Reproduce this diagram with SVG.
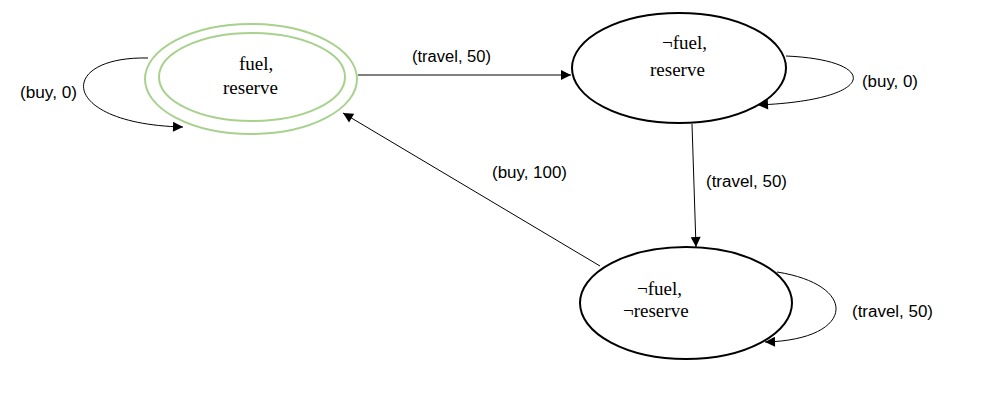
<svg xmlns="http://www.w3.org/2000/svg" width="990" height="415" viewBox="0 0 990 415">
<style>
.state{fill:#fff;stroke:#000;stroke-width:2}
.acc{fill:none;stroke:#A9D18E;stroke-width:2}
.st{font-family:"Liberation Serif","Times New Roman",serif;font-size:19px;fill:#000}
.lbl{font-family:"Liberation Sans",Arial,sans-serif;font-size:16px;fill:#000}
.edge{fill:none;stroke:#000;stroke-width:1;marker-end:url(#ah)}
</style>
<defs>
<marker id="ah" viewBox="0 0 10 10" refX="10" refY="5" markerWidth="12" markerHeight="10" markerUnits="userSpaceOnUse" orient="auto">
<path d="M0,0 L10,5 L0,10 Z" fill="#000"/>
</marker>
</defs>
<rect width="990" height="415" fill="#fff"/>
<g id="connectors">
<path class="edge" d="M148,58 C56,56 58,124 183,127"/>
<text class="lbl" x="20" y="98" textLength="57" lengthAdjust="spacingAndGlyphs">(buy, 0)</text>
<path class="edge" d="M358,75 L571,75"/>
<text class="lbl" x="412" y="62" textLength="79" lengthAdjust="spacingAndGlyphs">(travel, 50)</text>
<path class="edge" d="M786,56 C880,60 880,100 758,105"/>
<text class="lbl" x="862" y="87" textLength="56" lengthAdjust="spacingAndGlyphs">(buy, 0)</text>
<path class="edge" d="M692,124 L696,247"/>
<text class="lbl" x="706" y="187" textLength="81" lengthAdjust="spacingAndGlyphs">(travel, 50)</text>
<path class="edge" d="M777,272 C860,285 855,340 765,342"/>
<text class="lbl" x="852" y="317" textLength="81" lengthAdjust="spacingAndGlyphs">(travel, 50)</text>
<path class="edge" d="M600,266 L343,113"/>
<text class="lbl" x="492" y="178" textLength="75" lengthAdjust="spacingAndGlyphs">(buy, 100)</text>
</g>
<g id="node-fuel-reserve">
<ellipse class="acc" cx="251" cy="79" rx="106" ry="55"/>
<ellipse class="acc" cx="252" cy="77" rx="93" ry="44"/>
<text class="st" x="239" y="70">fuel,</text>
<text class="st" x="223" y="94">reserve</text>
</g>
<g id="node-nfuel-reserve">
<ellipse class="state" cx="679" cy="68" rx="107" ry="55"/>
<text class="st" x="662" y="49">¬fuel,</text>
<text class="st" x="650" y="76">reserve</text>
</g>
<g id="node-nfuel-nreserve">
<ellipse class="state" cx="686" cy="303" rx="106" ry="56"/>
<text class="st" x="637" y="295">¬fuel,</text>
<text class="st" x="623" y="317">¬reserve</text>
</g>
</svg>
